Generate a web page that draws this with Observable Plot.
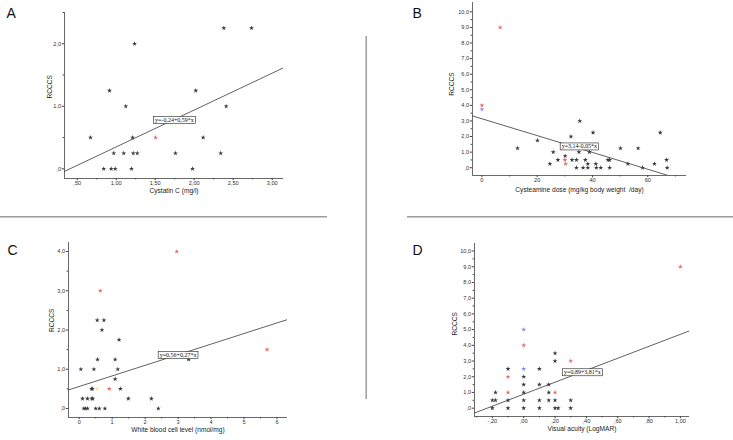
<!DOCTYPE html>
<html><head><meta charset="utf-8">
<script src="https://cdn.jsdelivr.net/npm/d3@7"></script>
<script src="https://cdn.jsdelivr.net/npm/@observablehq/plot@0.6"></script>
<style>
body{margin:0;background:#fff;}
#wrap{position:relative;width:733px;height:440px;overflow:hidden;background:#fff;}
#wrap svg{position:absolute;left:0;top:0;}
</style></head><body>
<div id="wrap">
<svg id="deco" width="733" height="440">
 <g stroke="#9c9c9c" stroke-width="1.5">
  <line x1="0" y1="216.8" x2="327" y2="216.8"/>
  <line x1="407" y1="216.8" x2="733" y2="216.8"/>
  <line x1="366.2" y1="36" x2="366.2" y2="399"/>
 </g>
 <g font-family="Liberation Sans, Arial, sans-serif" font-size="14" fill="#111">
  <text x="6.5" y="18.4">A</text>
  <text x="412.5" y="18.4">B</text>
  <text x="7.5" y="255.2">C</text>
  <text x="412.5" y="255.2">D</text>
 </g>
</svg>
</div>
<script>
// ---------- data ----------
// Panel A: Cystatin C vs RCCCS
const aX = [2.38, 2.735, 1.235, 0.914, 2.02, 1.123, 2.41, 0.67, 1.21, 1.504, 2.115, 0.969, 1.097, 1.218, 1.27, 1.76, 2.34, 0.84, 0.936, 0.987, 1.196, 1.978];
const aY = [2.25, 2.25, 2.0, 1.25, 1.25, 1.0, 1.0, 0.5, 0.5, 0.5, 0.5, 0.25, 0.25, 0.25, 0.25, 0.25, 0.25, 0, 0, 0, 0, 0];
const aG = ["k","k","k","k","k","k","k","k","k","r","k","k","k","k","k","k","k","k","k","k","k","k"];
const aXTicks = [0.5, 1.0, 1.5, 2.0, 2.5, 3.0];
const aYTicks = [0, 1, 2];
const aXMinor = [0.75, 1.25, 1.75, 2.25, 2.75];
const aYMinor = [0.5, 1.5, 2.5];
const aFit = {a: -0.24, b: 0.59, label: "y=-0,24+0,59*x"};

// Panel B: Cysteamine dose vs RCCCS
const bX = [6.6, 0, 0, 35.4, 32.2, 40.2, 64.5, 20.1, 12.9, 50.1, 56.5, 25.8, 35.1, 38.9, 30.1, 27.5, 30, 32.6, 34.2, 37.4, 45.6, 46.2, 66.8, 24.6, 30.3, 38.3, 41.2, 52.8, 62.4, 34.2, 36.6, 38.3, 41.4, 43, 46.2, 58.1, 67];
const bY = [9, 4, 3.75, 3, 2, 2.25, 2.25, 1.75, 1.25, 1.25, 1.25, 1, 1, 1, 0.75, 0.5, 0.5, 0.5, 0.5, 0.5, 0.5, 0.5, 0.5, 0.25, 0.25, 0.25, 0.25, 0.25, 0.25, 0, 0, 0, 0, 0, 0, 0, 0];
const bG = ["r","r","b","k","k","k","k","k","k","k","k","k","k","k","k","k","r","k","k","k","k","k","k","k","r","k","k","k","k","k","k","k","k","k","k","k","k"];
const bXTicks = [0, 20, 40, 60];
const bYTicks = [0, 1, 2, 3, 4, 5, 6, 7, 8, 9, 10];
const bXMinor = [10, 30, 50, 70];
const bYMinor = [0.5, 1.5, 2.5, 3.5, 4.5, 5.5, 6.5, 7.5, 8.5, 9.5];
const bFit = {a: 3.14, b: -0.054, label: "y=3,14-0,05*x"};

// Panel C: White blood cell level vs RCCCS
const cX = [2.96, 0.64, 0.546, 0.75, 0.69, 1.21, 0.556, 1.09, 5.70, 3.32, 0.05, 0.446, 1.17, 1.09, 0.374, 0.40, 0.536, 0.91, 1.25, 0.1, 0.25, 0.385, 0.41, 1.49, 2.19, 0.14, 0.19, 0.25, 0.5, 0.61, 0.78, 2.4];
const cY = [4, 3, 2.25, 2.25, 2, 1.75, 1.25, 1.25, 1.5, 1.25, 1, 1, 1, 0.75, 0.5, 0.5, 0.5, 0.5, 0.5, 0.25, 0.25, 0.25, 0.25, 0.25, 0.25, 0, 0, 0, 0, 0, 0, 0];
const cG = ["r","r","k","k","k","k","k","k","r","k","k","k","k","k","k","k","y","r","k","k","k","k","k","k","k","k","k","k","k","k","k","k"];
const cXTicks = [0, 1, 2, 3, 4, 5, 6];
const cYTicks = [0, 1, 2, 3, 4];
const cXMinor = [0.5, 1.5, 2.5, 3.5, 4.5, 5.5];
const cYMinor = [0.5, 1.5, 2.5, 3.5];
const cFit = {a: 0.56, b: 0.27, label: "y=0,56+0,27*x"};

// Panel D: Visual acuity vs RCCCS
const dX = [1.0, 0, 0, 0.2, 0.2, 0.3, -0.1, 0, 0.1, -0.1, 0, 0, 0.1, 0.16, -0.18, -0.1, 0, 0.16, 0.2, -0.2, -0.18, -0.1, 0, 0.1, 0.16, 0.2, 0.3, -0.2, -0.1, 0, 0.1, 0.2, 0.22, 0.3];
const dY = [9, 5, 4, 3.5, 3, 3, 2.5, 2.5, 2.5, 2, 2, 1.5, 1.5, 1.5, 1, 1, 1, 1, 1, 0.5, 0.5, 0.5, 0.5, 0.5, 0.5, 0.5, 0.5, 0, 0, 0, 0, 0, 0, 0];
const dG = ["r","b","r","k","k","r","k","b","k","r","k","k","k","k","k","r","k","k","r","k","k","k","k","k","k","k","k","k","k","k","k","k","k","k"];
const dXTicks = [-0.2, 0, 0.2, 0.4, 0.6, 0.8, 1.0];
const dYTicks = [0, 1, 2, 3, 4, 5, 6, 7, 8, 9, 10];
const dXMinor = [-0.3, -0.1, 0.1, 0.3, 0.5, 0.7, 0.9];
const dYMinor = [0.5, 1.5, 2.5, 3.5, 4.5, 5.5, 6.5, 7.5, 8.5, 9.5];
const dFit = {a: 0.89, b: 3.81, label: "y=0,89+3,81*x"};

const yTitle = "RCCCS";
const xTitles = ["Cystatin C (mg/l)", "Cysteamine dose (mg/kg body weight  /day)", "White blood cell level (nmol/mg)", "Visual acuity (LogMAR)"];

// ---------- styling ----------
const palette = {k: "#3a3a3a", r: "#ee6a6a", b: "#8c8cf0", y: "#f3e7a0"};
const FONT = "Liberation Sans, Arial, sans-serif";
const fmt = dec => v => v.toFixed(dec).replace(/^(-?)0\./, "$1.").replace(".", ",");

const panels = [
  {x: aX, y: aY, g: aG, xTicks: aXTicks, yTicks: aYTicks, xMinor: aXMinor, yMinor: aYMinor, fit: aFit, xTitle: xTitles[0],
   frame: [64, 283, 12, 178], xDomain: [0.337, 3.145], yDomain: [-0.155, 2.5], xFmt: fmt(2), yFmt: fmt(1),
   eqPos: [1.747, 0.78], yLab: [-14.5, 3], xLab: 14.5},
  {x: bX, y: bY, g: bG, xTicks: bXTicks, yTicks: bYTicks, xMinor: bXMinor, yMinor: bYMinor, fit: bFit, xTitle: xTitles[1],
   frame: [472, 686, 2, 175], xDomain: [-3.4, 74], yDomain: [-0.5, 10.6], xFmt: fmt(0), yFmt: fmt(1),
   eqPos: [35.25, 1.36], yLab: [-21, 6.8], xLab: 16.7},
  {x: cX, y: cY, g: cG, xTicks: cXTicks, yTicks: cYTicks, xMinor: cXMinor, yMinor: cYMinor, fit: cFit, xTitle: xTitles[2],
   frame: [68, 287, 242, 417], xDomain: [-0.325, 6.32], yDomain: [-0.23, 4.23], xFmt: fmt(0), yFmt: fmt(1),
   eqPos: [3.0, 1.36], yLab: [-16.5, 2], xLab: 14.6},
  {x: dX, y: dY, g: dG, xTicks: dXTicks, yTicks: dYTicks, xMinor: dXMinor, yMinor: dYMinor, fit: dFit, xTitle: xTitles[3],
   frame: [474, 689, 243, 416], xDomain: [-0.314, 1.058], yDomain: [-0.53, 10.48], xFmt: fmt(2), yFmt: fmt(1),
   eqPos: [0.375, 2.28], yLab: [-20, 5.5], xLab: 14.8}
];

const wrap = document.getElementById("wrap");

for (const p of panels) {
  const pts = p.x.map((x, i) => ({x, y: p.y[i], c: palette[p.g[i]]}));
  const line = p.xDomain.map(x => ({x, y: p.fit.a + p.fit.b * x}));
  const tickStyle = {fontFamily: FONT, fontSize: 5.6, fill: "#333", stroke: "#444", label: null};
  const svg = Plot.plot({
    width: 733, height: 440,
    marginLeft: p.frame[0], marginRight: 733 - p.frame[1], marginTop: p.frame[2], marginBottom: 440 - p.frame[3],
    x: {domain: p.xDomain},
    y: {domain: p.yDomain},
    color: {type: "identity"},
    style: {background: "transparent", overflow: "visible"},
    marks: [
      Plot.ruleY([p.yDomain[0]], {stroke: "#444", strokeWidth: 0.8}),
      Plot.ruleX([p.xDomain[0]], {stroke: "#444", strokeWidth: 0.8}),
      Plot.axisX(p.xTicks, {...tickStyle, tickFormat: p.xFmt, tickSize: 2.2, tickPadding: 0.3}),
      Plot.axisX(p.xMinor, {...tickStyle, tickFormat: () => "", tickSize: 1.4}),
      Plot.axisY(p.yTicks, {...tickStyle, tickFormat: p.yFmt, tickSize: 2.2, tickPadding: 1.2}),
      Plot.axisY(p.yMinor, {...tickStyle, tickFormat: () => "", tickSize: 1.4}),
      Plot.line(line, {x: "x", y: "y", stroke: "#3a3a3a", strokeWidth: 0.8, clip: true}),
      Plot.dot(pts, {x: "x", y: "y", fill: "c", symbol: "star", r: 1.55}),
      Plot.text([p.fit.label], {x: p.eqPos[0], y: p.eqPos[1], text: d => d, fontFamily: "Liberation Serif, Times New Roman, serif", fontSize: 6, fill: "#111"}),
      Plot.text([p.xTitle], {text: d => d, frameAnchor: "bottom", dy: p.xLab, fontFamily: FONT, fontSize: 6.6, fill: "#222"}),
      Plot.text([yTitle], {text: d => d, frameAnchor: "left", rotate: -90, dx: p.yLab[0], dy: p.yLab[1], fontFamily: FONT, fontSize: 6.6, fill: "#222"})
    ]
  });
  wrap.appendChild(svg);
  // draw boxes around regression equation labels
  for (const t of svg.querySelectorAll("text")) {
    if (!t.textContent.startsWith("y=")) continue;
    const b = t.getBBox();
    const r = document.createElementNS("http://www.w3.org/2000/svg", "rect");
    r.setAttribute("x", b.x - 1.5);
    r.setAttribute("y", b.y - 0.5);
    r.setAttribute("width", b.width + 3);
    r.setAttribute("height", b.height + 1);
    r.setAttribute("fill", "#fff");
    r.setAttribute("stroke", "#222");
    r.setAttribute("stroke-width", "0.6");
    if (t.getAttribute("transform")) r.setAttribute("transform", t.getAttribute("transform"));
    t.parentNode.insertBefore(r, t);
  }
}
</script>
</body></html>
